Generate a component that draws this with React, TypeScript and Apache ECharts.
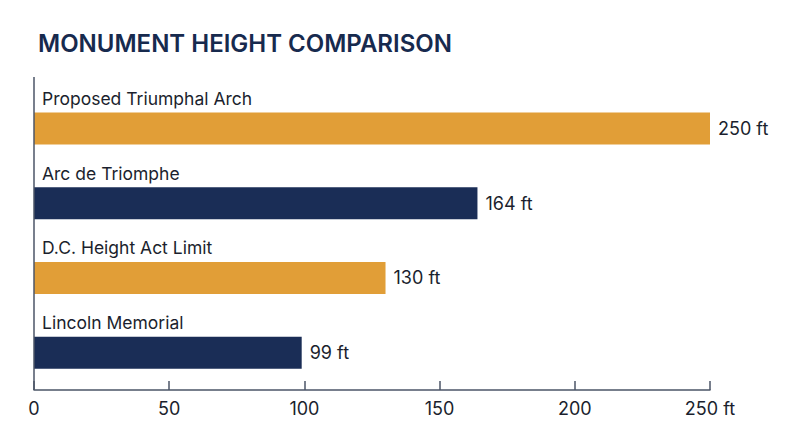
import { useEffect, useRef } from 'react';
import * as echarts from 'echarts';

const monuments = ['Proposed Triumphal Arch', 'Arc de Triomphe', 'D.C. Height Act Limit', 'Lincoln Memorial'];
const heights = [250, 164, 130, 99];
const barColors = ['#E19E37', '#1A2D56', '#E19E37', '#1A2D56'];
const xTicks = [0, 50, 100, 150, 200, 250];

const FONT = 'Inter, "Noto Sans", sans-serif';
const INK = '#1b1f2e';
const AXIS = '#4b5567';

export default function App() {
  const ref = useRef<HTMLDivElement>(null);

  useEffect(() => {
    document.body.style.margin = '0';
    if (!ref.current) return;
    const chart = echarts.init(ref.current, null, { renderer: 'svg' });
    const gridLeft = 34, gridRight = 90, gridTop = 91, gridBottom = 57;
    chart.setOption({
      animation: false,
      backgroundColor: '#ffffff',
      title: {
        text: 'MONUMENT HEIGHT COMPARISON',
        left: 33, top: 26,
        textStyle: { fontFamily: FONT, fontSize: 24, fontWeight: 600, color: '#172a4e' },
      },
      grid: { left: gridLeft, right: gridRight, top: gridTop, bottom: gridBottom },
      xAxis: {
        type: 'value', min: xTicks[0], max: xTicks[xTicks.length - 1], interval: 50,
        axisLine: { show: true, lineStyle: { color: AXIS, width: 1.5 } },
        axisTick: { show: true, inside: true, length: 9, lineStyle: { color: AXIS, width: 1.5 } },
        splitLine: { show: false },
        axisLabel: {
          margin: 9, fontFamily: FONT, fontSize: 18, color: INK,
          formatter: (v: number) => (v === 250 ? '250 ft' : String(v)),
        },
      },
      yAxis: {
        type: 'category', inverse: true, data: monuments,
        axisLine: { show: false }, axisTick: { show: false }, axisLabel: { show: false },
      },
      graphic: [
        {
          type: 'line', z: 10,
          shape: { x1: gridLeft, y1: 77, x2: gridLeft, y2: 447 - gridBottom },
          style: { stroke: AXIS, lineWidth: 1.5 },
        },
      ],
      series: [
        {
          type: 'bar', barWidth: 32,
          data: heights.map((v, i) => ({ value: v, itemStyle: { color: barColors[i] } })),
          label: {
            show: true, position: 'right', distance: 8,
            fontFamily: FONT, fontSize: 18, color: INK,
            formatter: (p: any) => `${p.value} ft`,
          },
        },
        {
          type: 'bar', barWidth: 32, barGap: '-100%', silent: true,
          data: heights.map(v => ({ value: v, itemStyle: { color: 'transparent' } })),
          label: {
            show: true, position: [8, -14], verticalAlign: 'middle', align: 'left',
            fontFamily: FONT, fontSize: 17.5, color: INK,
            formatter: (p: any) => monuments[p.dataIndex],
          },
        },
      ],
    });
    return () => chart.dispose();
  }, []);

  return <div ref={ref} style={{ width: 800, height: 447 }} />;
}
